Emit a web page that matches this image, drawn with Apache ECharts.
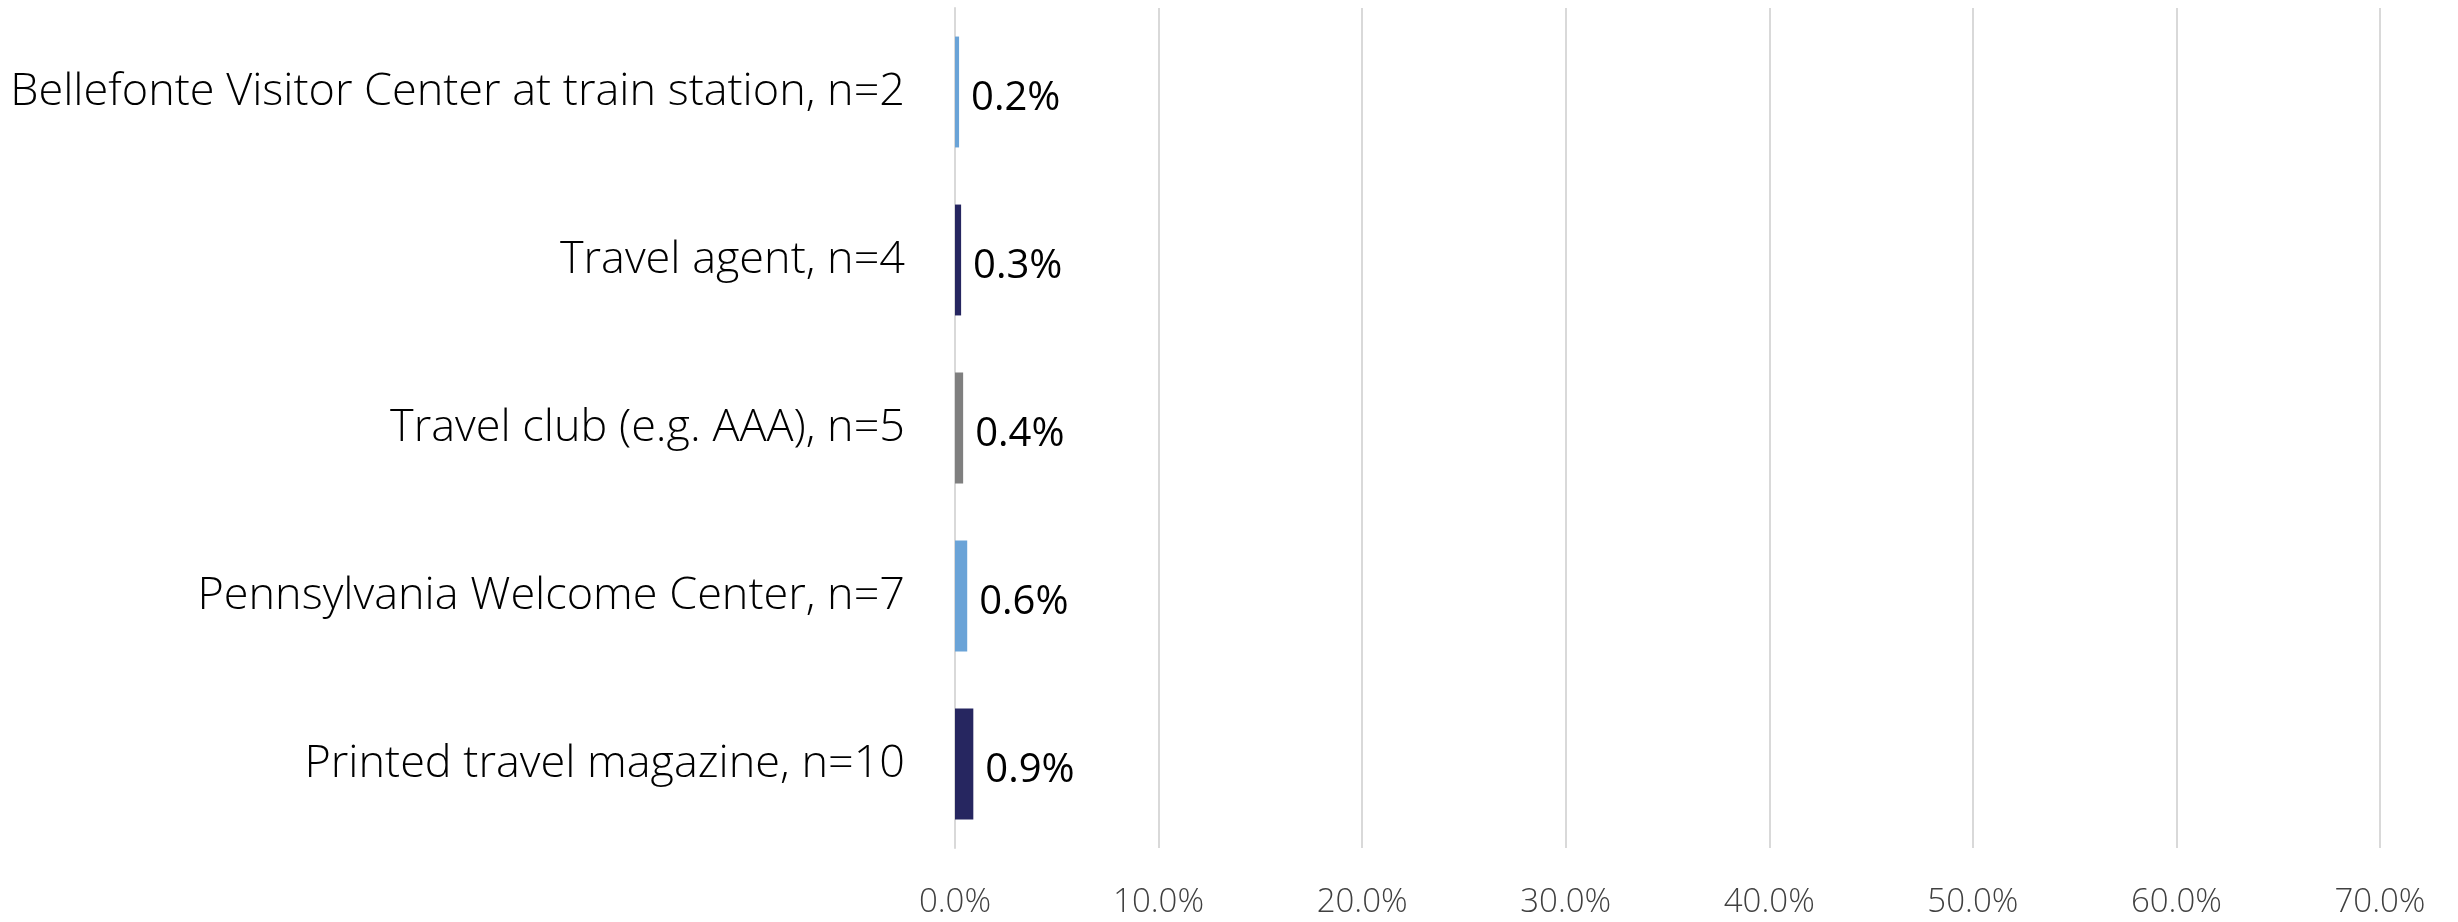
<!DOCTYPE html>
<html>
<head>
<meta charset="utf-8">
<script src="https://cdn.jsdelivr.net/npm/echarts@6/dist/echarts.min.js"></script>
<style>
    html, body { margin: 0; padding: 0; background: #fff; }
    #chart { width: 2458px; height: 922px; }
</style>
</head>
<body>
<div id="chart"></div>
<script>
    // categories, top to bottom
    var categories = [
        'Bellefonte Visitor Center at train station, n=2',
        'Travel agent, n=4',
        'Travel club (e.g. AAA), n=5',
        'Pennsylvania Welcome Center, n=7',
        'Printed travel magazine, n=10'
    ];
    var values = [0.2, 0.3, 0.4, 0.6, 0.9];
    var barColors = ['#6aa3d7', '#262660', '#7f7f7f', '#6aa3d7', '#262660'];
    var xTicks = [0, 10, 20, 30, 40, 50, 60, 70];

    var myChart = echarts.init(document.getElementById('chart'));

    var option = {
        animation: false,
        grid: {
            left: 955,
            right: 78,
            top: 8,
            bottom: 74
        },
        xAxis: {
            type: 'value',
            min: xTicks[0],
            max: xTicks[xTicks.length - 1],
            interval: 10,
            axisLine: { show: false },
            axisTick: { show: false },
            splitLine: { lineStyle: { color: '#d9d9d9', width: 2 } },
            axisLabel: {
                formatter: function (v) { return v.toFixed(1) + '%'; },
                color: '#404040',
                fontFamily: 'Open Sans',
                fontWeight: 300,
                fontSize: 33,
                margin: 38
            }
        },
        yAxis: {
            type: 'category',
            inverse: true,
            data: categories,
            axisLine: { lineStyle: { color: '#d9d9d9', width: 2 } },
            axisTick: { length: 18, lineStyle: { color: '#d9d9d9', width: 2 } },
            axisLabel: {
                color: '#000',
                fontFamily: 'Open Sans',
                fontWeight: 300,
                fontSize: 45,
                margin: 50,
                padding: [10, 0, 0, 0]
            }
        },
        series: [{
            type: 'bar',
            barCategoryGap: '34%',
            data: values.map(function (v, i) {
                return { value: v, itemStyle: { color: barColors[i] } };
            }),
            label: {
                show: true,
                position: 'right',
                distance: 12,
                offset: [0, 7],
                color: '#000',
                fontFamily: 'Open Sans',
                fontSize: 40,
                formatter: function (p) { return p.value.toFixed(1) + '%'; }
            }
        }]
    };
    myChart.setOption(option);
</script>
</body>
</html>
